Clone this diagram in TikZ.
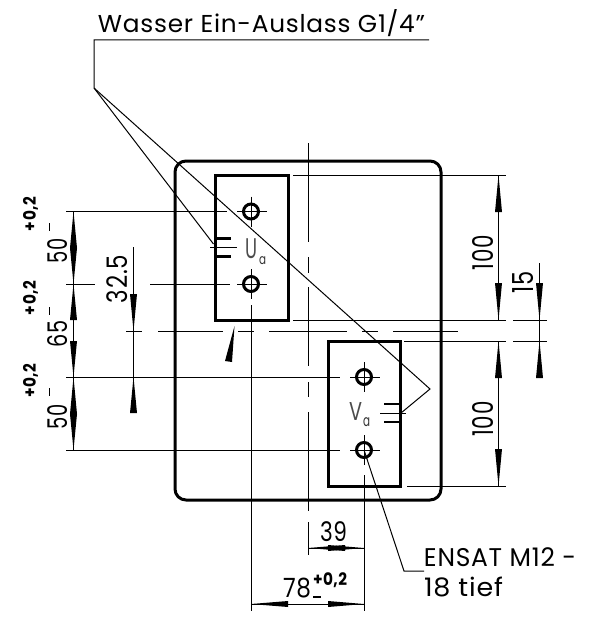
\documentclass[tikz,border=0pt]{standalone}
\usepackage{fontspec}
\usepackage{graphicx}
\setmainfont[LetterSpace=3]{Poppins}
\newcommand{\cadtext}[3]{\resizebox*{#1pt}{#2pt}{#3}}
\newcommand{\varr}[3]{\fill (#1,#2) -- (#1-3.5,#3) -- (#1+3.5,#3) -- cycle;}
\newcommand{\harr}[3]{\fill (#2,#1) -- (#3,#1-3) -- (#3,#1+3) -- cycle;}
\tikzset{
  thinln/.style={line width=1pt,black},
  thickln/.style={line width=3pt,black,line join=miter},
  symln/.style={line width=2.2pt,black},
  lbl/.style={inner sep=0pt,outer sep=0pt,anchor=center},
  vlbl/.style={lbl,rotate=90},
  holering/.style={line width=3pt,black}
}
\begin{document}
\begin{tikzpicture}[x=1pt,y=-1pt]
\useasboundingbox (0,0) rectangle (602,618);
\fill[white] (0,0) rectangle (602,618);
% outer plate and blocks
\draw[thickln,rounded corners=11pt] (175,161) rectangle (441,500);
\draw[thickln] (215,175) rectangle (288,320);
\draw[thickln] (328,341) rectangle (400,486);
% centre lines
\draw[thinln] (308,143)--(308,242) (308,257)--(308,273) (308,287)--(308,366) (308,382)--(308,397) (308,412)--(308,511) (308,522)--(308,555);
\draw[thinln] (126,331)--(142,331) (158,331)--(223,331) (238,331)--(254,331) (269,331)--(347,331) (362,331)--(378,331) (393,331)--(458,331);
\draw[thinln] (251,305)--(251,611);
\draw[thinln] (364,475)--(364,611);
% holes
\foreach \hx/\hy/\hn in {251/211.5/ha,251/284/hb,364/377/hc,364/450/hd}{
  \coordinate (\hn) at (\hx,\hy);
  \draw[holering] (\hn) circle (7.5);
  \draw[thinln] (\hx,\hy-15)--(\hx,\hy+15) (\hx-14,\hy)--(\hx+15.5,\hy);
}
% extension lines
\draw[thinln] (66,211.5)--(227,211.5);
\draw[thinln] (66,284)--(95,284) (150,284)--(230,284);
\draw[thinln] (66,377)--(340,377) (66,450)--(340,450);
\draw[thinln] (293,175)--(506,175);
\draw[thinln] (293,320)--(506,320) (513,320)--(547,320);
\draw[thinln] (404,341)--(506,341) (513,341)--(547,341);
\draw[thinln] (407,486)--(506,486);
% left dimension chain
\draw[thinln] (73.5,211.5)--(73.5,450);
\varr{73.5}{211.5}{248}\varr{73.5}{284}{248}
\varr{73.5}{284}{320}\varr{73.5}{377}{341}
\varr{73.5}{377}{414}\varr{73.5}{450}{414}
% 32.5
\draw[thinln] (133.5,247)--(133.5,413);
\varr{133.5}{331}{294}\varr{133.5}{377}{413}
% right dimensions
\draw[thinln] (498.5,175)--(498.5,320) (498.5,341)--(498.5,486);
\varr{498.5}{175}{212}\varr{498.5}{320}{283}
\varr{498.5}{341}{378}\varr{498.5}{486}{449}
\draw[thinln] (539.5,263)--(539.5,378);
\varr{539.5}{320}{283}\varr{539.5}{341}{378}
% bottom dimensions
\draw[thinln] (308,548)--(364,548);
\harr{548}{308}{345}\harr{548}{364}{328}
\draw[thinln] (251,604)--(364,604);
\harr{604}{251}{288}\harr{604}{364}{328}
% section arrow
\fill (234.5,326)--(225,361)--(232,362)--cycle;
% water connection symbols
\draw[symln] (216,238.5)--(231,238.5) (216,256.5)--(231,256.5);
\draw[thinln] (210,247.5)--(237,247.5);
\draw[symln] (384,404)--(399,404) (384,422)--(399,422);
\draw[thinln] (380,413)--(406,413);
% leaders
\coordinate (ls) at (94,88);
\coordinate (lt) at (429,40);
\coordinate (lk) at (430,389);
\draw[thinln,line join=miter] (lt)--(94,40)--(ls)--(213.5,244);
\draw[thinln,line join=miter] (ls)--(lk)--(401,413);
\coordinate (ld) at (404,571);
\draw[thinln] (hd)--(ld)--(424,571);
% labels
\node[inner sep=0pt,anchor=base] (title) at (261.5,33) {\resizebox{327pt}{23pt}{Wasser Ein-Auslass G1/4"}};
\node[vlbl] (d50a) at (58,250.5) {\cadtext{25}{20}{50}};
\node[vlbl] (d65) at (58,333.5) {\cadtext{27}{20}{65}};
\node[vlbl] (d50b) at (58,416.5) {\cadtext{25}{20}{50}};
\node[vlbl] (ta) at (30.5,214) {\cadtext{34}{15}{\bfseries +0,2}};
\node[vlbl] (tb) at (30.5,298) {\cadtext{34}{15}{\bfseries +0,2}};
\node[vlbl] (tc) at (30.5,380.5) {\cadtext{34}{15}{\bfseries +0,2}};
\fill (48.5,223)rectangle(50,231);
\fill (48.5,307)rectangle(50,315);
\fill (48.5,388)rectangle(50,396);
\node[vlbl] (d325) at (117,279) {\cadtext{48}{21}{32.5}};
\node[vlbl] (h100a) at (482.5,252.5) {\cadtext{35}{21}{100}};
\node[vlbl] (h100b) at (482.5,419) {\cadtext{35}{21}{100}};
\node[vlbl] (d15) at (523.5,282) {\cadtext{22}{21}{15}};
\node[lbl] (d39) at (333.5,532) {\cadtext{27}{20}{39}};
\node[lbl] (d78) at (297,588) {\cadtext{28}{20}{78}};
\node[lbl] (t78) at (330,580.5) {\cadtext{34}{15}{\bfseries +0,2}};
\fill (313,596.3)rectangle(321,597.8);
\node[lbl] (ens) at (500,557.5) {\cadtext{152}{19}{ENSAT M12 -}};
\node[lbl] (tief) at (463.5,587) {\cadtext{79}{20}{18 tief}};
\node[lbl,text=black!70] (ulab) at (251,249) {\cadtext{12}{20}{U}};
\node[lbl,text=black!80] (usub) at (262.5,261) {\cadtext{7}{8}{a}};
\node[lbl,text=black!70] (vlab) at (355.5,411) {\cadtext{13}{18}{V}};
\node[lbl,text=black!80] (vsub) at (366.5,422.5) {\cadtext{7}{9}{a}};
\end{tikzpicture}
\end{document}
